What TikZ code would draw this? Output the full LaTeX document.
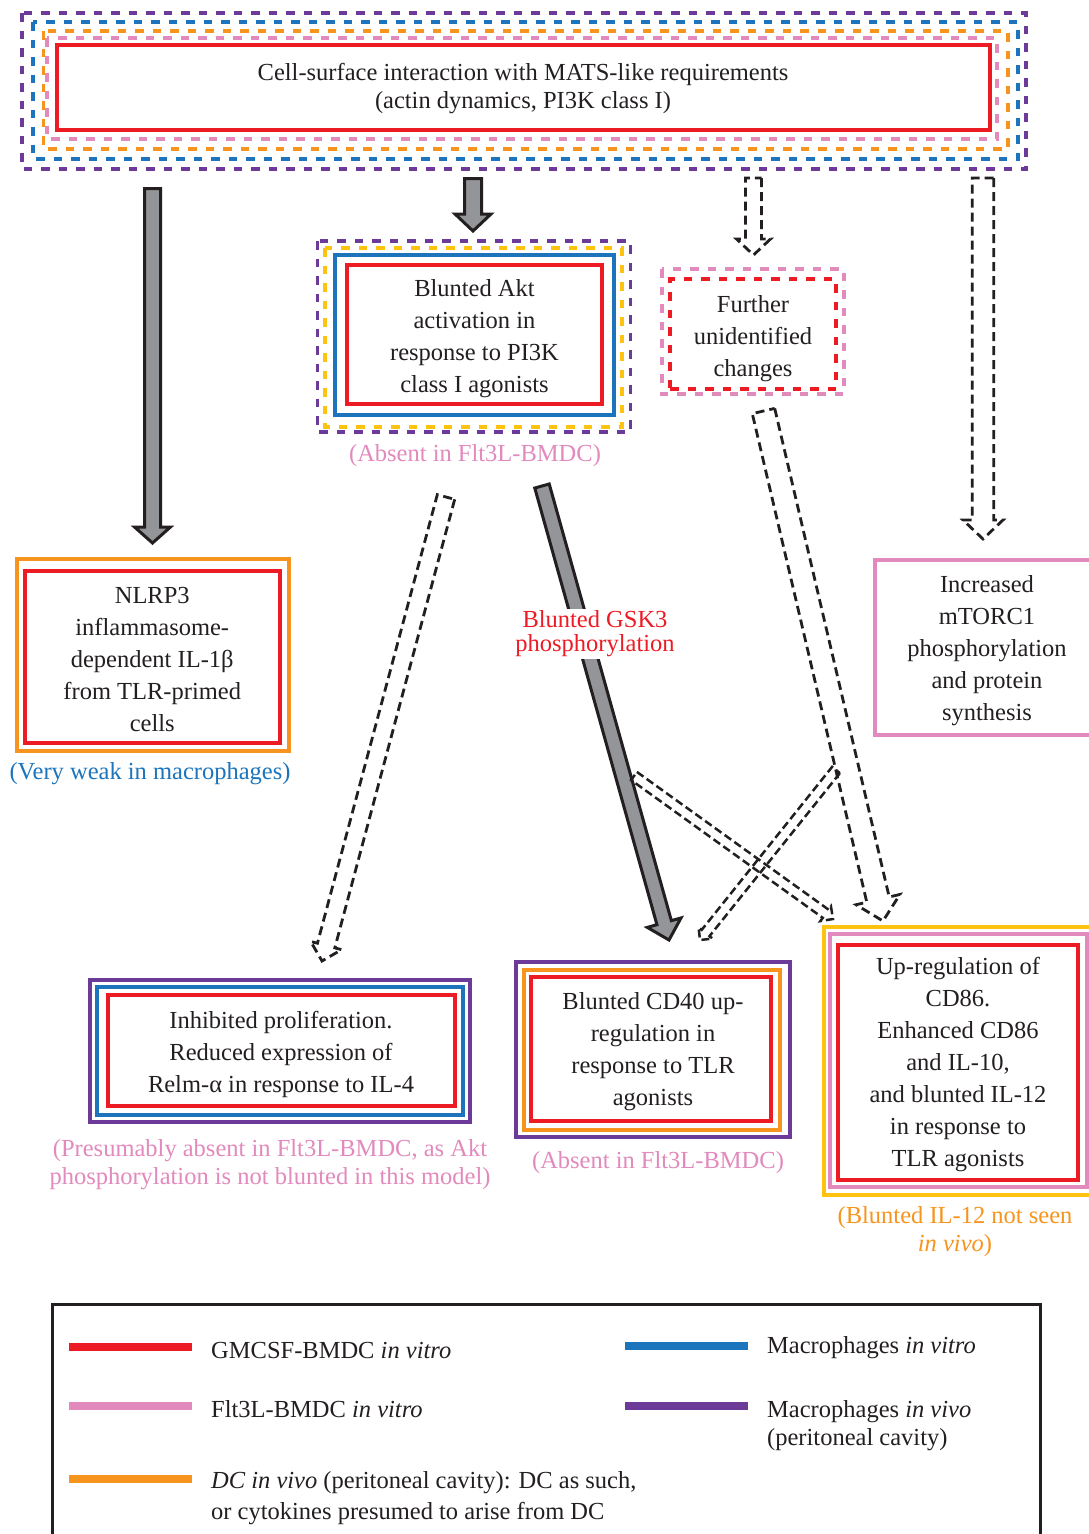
\documentclass[tikz,border=0pt]{standalone}
\usepackage{fontspec}
\setmainfont{Liberation Serif}
\usetikzlibrary{calc}
\definecolor{cred}{RGB}{237,28,36}
\definecolor{cpink}{RGB}{226,138,189}
\definecolor{corange}{RGB}{247,148,29}
\definecolor{cblue}{RGB}{28,117,188}
\definecolor{cpurple}{RGB}{108,58,152}
\definecolor{cyellow}{RGB}{255,194,14}
\definecolor{cgrey}{RGB}{147,149,152}
\definecolor{ink}{RGB}{35,31,32}
\newcommand{\blockarr}[6]{%
  \coordinate (bah) at ($(#3)!#6!(#2)$);
  \draw[#1] ($(#2)!#4!90:(#3)$) -- ($(bah)!#4!90:(#3)$) -- ($(bah)!#5!90:(#3)$) -- (#3)
    -- ($(bah)!#5!-90:(#3)$) -- ($(bah)!#4!-90:(#3)$) -- ($(#2)!#4!-90:(#3)$) -- cycle;
}
\tikzset{
  txt/.style={font=\fontsize{24.5}{32}\selectfont, text=ink, align=center, inner sep=0pt},
  lbl/.style={font=\fontsize{24.5}{28}\selectfont, align=center, inner sep=1pt},
  legtxt/.style={font=\fontsize{24.5}{29}\selectfont, text=ink, align=left, anchor=west, inner sep=0pt},
  solidframe/.style={line width=4pt},
  dframe/.style={line width=3.8pt, dash pattern=on 8.5pt off 9pt},
  inbox/.style={draw=cred, line width=4pt, inner sep=0pt},
  greyarrow/.style={fill=cgrey, draw=ink, line width=3pt, line join=miter},
  dasharrow/.style={draw=ink, line width=2.8pt, dash pattern=on 9pt off 5pt, line join=miter},
  thinarrow/.style={draw=ink, line width=2.5pt, dash pattern=on 8pt off 4pt, line join=miter},
  legline/.style={line width=8pt}
}
\begin{document}
\begin{tikzpicture}[x=1pt,y=-1pt]
\useasboundingbox[fill=white] (0,0) rectangle (1089,1534);

% ---- top box
\node[inbox, minimum width=933pt, minimum height=85.5pt] (top) at (523,87.25) {};
\node[txt, font=\fontsize{24.5}{28}\selectfont] (top-t) at ($(top)+(0,1.5)$)
  {Cell-surface interaction with MATS-like requirements\\(actin dynamics, PI3K class I)};
\draw[dframe, cpink] (47,38) rectangle (997,139);
\draw[dframe, corange] (43.5,31) rectangle (1008,149);
\draw[dframe, cblue] (33,22) rectangle (1018,159);
\draw[dframe, cpurple] (22,13) rectangle (1026,169);

% ---- Akt box
\node[inbox, minimum width=255pt, minimum height=139pt] (akt) at (474.5,334) {};
\node[txt] (akt-t) at ($(akt)+(0,4.5)$) {Blunted Akt\\activation in\\response to PI3K\\class I agonists};
\draw[solidframe, cblue] (335,255) rectangle (614,415);
\draw[dframe, cyellow] (325,248) rectangle (622,427);
\draw[dframe, cpurple] (317.5,241) rectangle (630.5,432);
\node[lbl, text=cpink] (akt-l) at (475,456) {(Absent in Flt3L-BMDC)};

% ---- Further box
\node[draw=cred, dframe, inner sep=0pt, minimum width=166pt, minimum height=110pt] (further) at (753,334) {};
\node[txt] (further-t) at ($(further)+(0,4.5)$) {Further\\unidentified\\changes};
\draw[dframe, cpink] (662,269) rectangle (844,394);

% ---- mTORC1 box
\node[draw=cpink, line width=4pt, inner sep=0pt, minimum width=224pt, minimum height=175pt] (mtor) at (987,647.5) {};
\node[txt] (mtor-t) at ($(mtor)+(0,3.5)$) {Increased\\mTORC1\\phosphorylation\\and protein\\synthesis};

% ---- NLRP3 box
\node[inbox, minimum width=254.5pt, minimum height=172.5pt] (nlrp) at (152.25,656.75) {};
\node[txt] (nlrp-t) at ($(nlrp)+(0,3)$) {NLRP3\\inflammasome-\\dependent IL-1β\\from TLR-primed\\cells};
\draw[solidframe, corange] (16.5,559) rectangle (288.5,751);
\node[lbl, text=cblue] (nlrp-l) at (150,774) {(Very weak in macrophages)};

% ---- Inhibited box
\node[inbox, minimum width=347pt, minimum height=111pt] (inhib) at (281,1050.5) {};
\node[txt] (inhib-t) at ($(inhib)+(0,3.5)$) {Inhibited proliferation.\\Reduced expression of\\Relm-α in response to IL-4};
\draw[solidframe, cblue] (97,987) rectangle (463,1115);
\draw[solidframe, cpurple] (89.5,980) rectangle (469.5,1122);
\node[lbl, text=cpink] (inhib-l) at (270,1165)
  {(Presumably absent in Flt3L-BMDC, as Akt\\phosphorylation is not blunted in this model)};

% ---- CD40 box
\node[inbox, minimum width=240pt, minimum height=144pt] (cd40) at (651,1049) {};
\node[txt] (cd40-t) at ($(cd40)+(2,3)$) {Blunted CD40 up-\\regulation in\\response to TLR\\agonists};
\draw[solidframe, corange] (523.5,970) rectangle (780,1129.5);
\draw[solidframe, cpurple] (515.5,962) rectangle (789.5,1137);
\node[lbl, text=cpink] (cd40-l) at (658,1163) {(Absent in Flt3L-BMDC)};

% ---- CD86 box
\node[inbox, minimum width=240pt, minimum height=235pt] (cd86) at (958,1062.5) {};
\node[txt] (cd86-t) at ($(cd86)+(0,2)$)
  {Up-regulation of\\CD86.\\Enhanced CD86\\and IL-10,\\and blunted IL-12\\in response to\\TLR agonists};
\draw[solidframe, cpink] (830,934) rectangle (1087,1187);
\draw[solidframe, cyellow] (823.5,927) rectangle (1094,1195);
\node[lbl, text=corange] (cd86-l) at (955,1232) {(Blunted IL-12 not seen\\\textit{in vivo})};

% ---- arrows
\coordinate (a1s) at (152.5,188.5); \coordinate (a1e) at (152.5,543);
\blockarr{greyarrow}{a1s}{a1e}{8pt}{18pt}{16pt}
\coordinate (a2s) at (473,178.5); \coordinate (a2e) at (473,231);
\blockarr{greyarrow}{a2s}{a2e}{8.5pt}{18pt}{17pt}
\coordinate (a3s) at (753.5,178); \coordinate (a3e) at (753.5,255);
\blockarr{dasharrow}{a3s}{a3e}{8pt}{17pt}{16pt}
\coordinate (a4s) at (983,178); \coordinate (a4e) at (983,539);
\blockarr{dasharrow}{a4s}{a4e}{10.75pt}{20pt}{19pt}
\coordinate (a5s) at (446,497); \coordinate (a5e) at (322,961);
\blockarr{dasharrow}{a5s}{a5e}{9pt}{16pt}{16pt}
\coordinate (a6s) at (542,486); \coordinate (a6e) at (669,940);
\blockarr{greyarrow}{a6s}{a6e}{7.5pt}{17.5pt}{18pt}
\coordinate (a7s) at (763.5,411); \coordinate (a7e) at (883,921);
\blockarr{dasharrow}{a7s}{a7e}{11.5pt}{22.5pt}{22pt}
\coordinate (a8s) at (634,776); \coordinate (a8e) at (833,919);
\blockarr{thinarrow}{a8s}{a8e}{5pt}{9pt}{9pt}
\coordinate (a9s) at (836,770); \coordinate (a9e) at (700,940);
\blockarr{thinarrow}{a9s}{a9e}{5pt}{9pt}{9pt}

\node[lbl, text=cred, fill=white, font=\fontsize{24.5}{24}\selectfont, inner sep=2pt] (gsk) at (595,634)
  {Blunted GSK3\\phosphorylation};

% ---- legend
\draw[ink, line width=3pt] (52,1560) -- (52,1304) -- (1040,1304) -- (1040,1560);
\draw[legline, cred] (69,1347) -- (192,1347);
\node[legtxt] (lg1) at (211,1350) {GMCSF-BMDC \textit{in vitro}};
\draw[legline, cpink] (69,1406) -- (192,1406);
\node[legtxt] (lg2) at (211,1409) {Flt3L-BMDC \textit{in vitro}};
\draw[legline, corange] (69,1479) -- (192,1479);
\node[legtxt, font=\fontsize{24.5}{31}\selectfont] (lg3) at (211,1498)
  {\textit{DC in vivo} (peritoneal cavity): DC as such,\\or cytokines presumed to arise from DC};
\draw[legline, cblue] (625,1346) -- (748,1346);
\node[legtxt] (lg4) at (767,1348) {Macrophages \textit{in vitro}};
\draw[legline, cpurple] (625,1406) -- (748,1406);
\node[legtxt, font=\fontsize{24.5}{28}\selectfont] (lg5) at (767,1426)
  {Macrophages \textit{in vivo}\\(peritoneal cavity)};
\end{tikzpicture}
\end{document}
